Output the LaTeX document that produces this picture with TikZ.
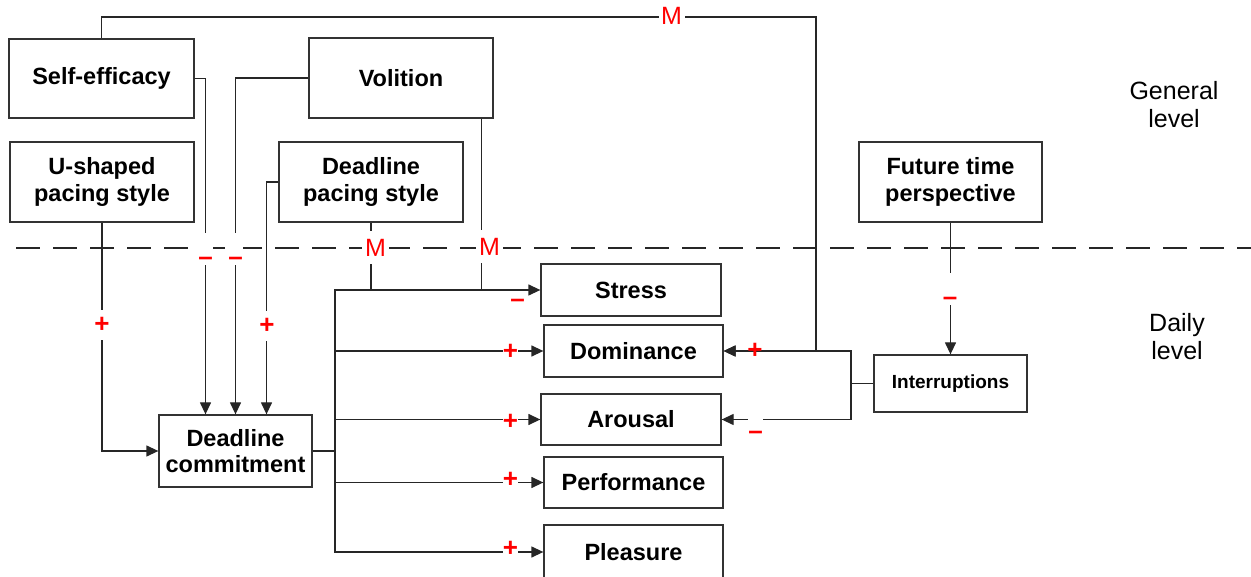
\documentclass[tikz,border=0pt]{standalone}
\usepackage{fontspec}
\setmainfont{Liberation Sans}
\usetikzlibrary{arrows.meta}
\newcommand\boxfont{\fontsize{23.5}{26.5}\selectfont\bfseries}
\newcommand\smallboxfont{\fontsize{19}{22}\selectfont\bfseries}
\newcommand\sgnfont{\fontsize{26}{28}\selectfont\bfseries}
\newcommand\mfont{\fontsize{25}{27}\selectfont}
\newcommand\lvlfont{\fontsize{25}{27.5}\selectfont}
\begin{document}
\begin{tikzpicture}[x=1pt,y=-1pt,
  box/.style={draw=black!80, line width=1.3pt, fill=white, inner sep=2pt, align=center, font=\boxfont},
  conn/.style={draw=black!85, line width=1.3pt, -{Triangle[length=12pt,width=11pt]}},
  plain/.style={draw=black!85, line width=1.3pt},
  sgn/.style={text=red, font=\sgnfont, inner sep=0pt},
  mask/.style={fill=white}]
\useasboundingbox (0,0) rectangle (1251,577);

% level separator
\draw[black!85, line width=1.3pt, dash pattern=on 24pt off 13pt] (16,248) -- (1251,248);

% boxes
\node[box, minimum width=185pt, minimum height=79pt] (se) at (101.5,78.5) {Self-efficacy};
\node[box, minimum width=184pt, minimum height=80pt] (vo) at (401,78) {Volition};
\node[box, minimum width=184pt, minimum height=80pt] (us) at (102,182) {U-shaped\\pacing style};
\node[box, minimum width=184pt, minimum height=80pt] (dp) at (371,182) {Deadline\\pacing style};
\node[box, minimum width=183pt, minimum height=80pt] (ft) at (950.5,182) {Future time\\perspective};
\node[box, minimum width=153pt, minimum height=72pt] (dc) at (235.5,451) {Deadline\\commitment};
\node[box, minimum width=180pt, minimum height=52pt] (st) at (631,290) {Stress};
\node[box, minimum width=179pt, minimum height=52pt] (do) at (633.5,351) {Dominance};
\node[box, minimum width=180pt, minimum height=51pt] (ar) at (631,419.5) {Arousal};
\node[box, minimum width=179pt, minimum height=51pt] (pe) at (633.5,482.5) {Performance};
\node[box, minimum width=179pt, minimum height=54pt] (pl) at (633.5,552) {Pleasure};
\node[box, font=\smallboxfont, minimum width=153pt, minimum height=57pt] (in) at (950.5,383.5) {Interruptions};

% level labels
\node[font=\lvlfont, align=center, inner sep=0pt] (gl) at (1174,104.4) {General\\level};
\node[font=\lvlfont, align=center, inner sep=0pt] (dl) at (1177,336.4) {Daily\\level};

% helper coordinates
\coordinate (tr) at (816,17);
\coordinate (jn) at (851,383.5);
\coordinate (tk) at (335,451);

% connectors
\draw[conn] (se.north) |- (tr) |- (do.east);
\draw[plain] (in.west) -- (jn);
\draw[conn] (jn) |- (do.east);
\draw[conn] (jn) |- (ar.east);
\draw[conn] (us.south) |- (dc.west);
\draw[conn] (se.east) -| ([xshift=-30pt]dc.north);
\draw[conn] (vo.west) -| (dc.north);
\draw[conn] (dp.west) -| ([xshift=31pt]dc.north);
\draw[plain] (dc.east) -- (tk);
\draw[conn] (tk) |- (st.west);
\draw[conn] (tk) |- (do.west);
\draw[conn] (tk) |- (ar.west);
\draw[conn] (tk) |- (pe.west);
\draw[conn] (tk) |- (pl.west);
\draw[plain] (dp.south) -- (dp.south |- st.west);
\draw[plain] ([xshift=-12pt]vo.south east) -- ([xshift=-12pt]vo.south east |- st.west);
\draw[conn] (ft.south) -- (in.north);

% signs
\node[sgn, mask, font=\mfont, minimum width=26pt, minimum height=30pt] (mt) at (671.5,16) {M};
\node[sgn, mask, font=\mfont, minimum width=27pt, minimum height=33pt] (m1) at (375.5,248) {M};
\node[sgn, mask, font=\mfont, minimum width=27pt, minimum height=33pt] (m2) at (489.5,247) {M};
\node[sgn, mask, anchor=base, text height=32pt, text depth=0pt] (n1) at (205.5,265.5) {–};
\node[sgn, mask, anchor=base, text height=32pt, text depth=0pt] (n2) at (235.5,265.5) {–};
\node[sgn, mask, anchor=base, text height=32.5pt, text depth=0pt] (n3) at (950,305.5) {–};
\node[sgn, mask, anchor=base, text height=22pt, text depth=0pt] (n4) at (755.5,439.5) {–};
\node[sgn, anchor=base] (n5) at (517.5,307.5) {–};
\node[sgn, mask, anchor=base, text height=22.6pt, text depth=7.4pt] (p1) at (102,332.6) {+};
\node[sgn, mask, anchor=base, text height=22.6pt, text depth=7.4pt] (p2) at (267,333.6) {+};
\node[sgn, mask, anchor=base] (p3) at (510.5,360) {+};
\node[sgn, mask, anchor=base] (p4) at (510.5,429.6) {+};
\node[sgn, mask, anchor=base] (p5) at (510.5,487) {+};
\node[sgn, mask, anchor=base] (p6) at (510.5,556.6) {+};
\node[sgn, anchor=base] (p7) at (755,358.6) {+};
\end{tikzpicture}
\end{document}
